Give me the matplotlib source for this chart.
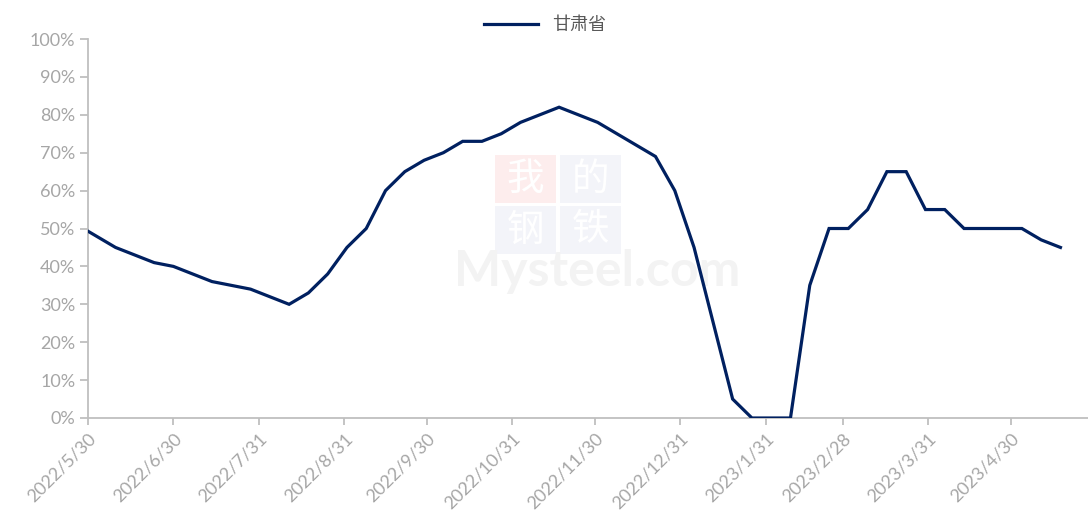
import matplotlib
matplotlib.use('Agg')
import matplotlib.pyplot as plt
from matplotlib.patches import Rectangle
import pandas as pd
import numpy as np

plt.rcParams['font.family'] = ['Lato', 'Noto Sans CJK SC', 'DejaVu Sans']

# weekly data (Thursdays), first point sits before the axis start and gets clipped
dates = pd.date_range('2022-05-26', '2023-05-18', freq='7D')
values = [51, 48, 45, 43, 41, 40, 38, 36, 35, 34, 32, 30, 33, 38, 45, 50,
          60, 65, 68, 70, 73, 73, 75, 78, 80, 82, 80, 78, 75, 72, 69, 60,
          45, 25, 5, 0, 0, 0, 35, 50, 50, 55, 65, 65, 55, 55, 50, 50, 50,
          50, 47, 45]
series_name = '甘肃省'
tick_dates = ['2022-05-30', '2022-06-30', '2022-07-31', '2022-08-31', '2022-09-30',
              '2022-10-31', '2022-11-30', '2022-12-31', '2023-01-31', '2023-02-28',
              '2023-03-31', '2023-04-30']

W, H = 1088, 527
fig = plt.figure(figsize=(W / 100, H / 100), dpi=100)
ax = fig.add_axes([88 / W, (H - 418) / H, 1000 / W, (418 - 39) / H])
ax.set_zorder(5)

# faint watermark, kept behind the axes
fig.text(597 / W, 1 - 272 / H, 'Mysteel.com', fontsize=36, color='#F3F3F3', weight='bold',
         ha='center', va='center', zorder=0)
wm = [(495, 155, '我', '#FDEDED'), (560, 155, '的', '#F3F4F9'),
      (495, 206, '钢', '#F3F4F9'), (560, 206, '铁', '#F3F4F9')]
for (x0, y0, ch, col) in wm:
    fig.patches.append(Rectangle((x0 / W, 1 - (y0 + 48) / H), 61 / W, 48 / H,
                                 transform=fig.transFigure, fc=col, ec='none', zorder=0))
    fig.text((x0 + 30.5) / W, 1 - (y0 + 24) / H, ch, fontsize=27, color='#FFFFFF',
             ha='center', va='center', family=['Noto Sans CJK SC'], zorder=0.5)

ax.patch.set_alpha(0)
ax.plot(dates, np.array(values) / 100, color='#002060', lw=2.3, label=series_name,
        solid_joinstyle='miter', zorder=3)

ax.set_xlim(pd.Timestamp('2022-05-30'), pd.Timestamp('2023-05-28'))
ax.set_ylim(0, 1)
ax.set_yticks(np.arange(0, 1.01, 0.1))
ax.set_yticklabels([f'{int(round(v * 100))}%' for v in np.arange(0, 1.01, 0.1)])
ax.set_xticks([pd.Timestamp(d) for d in tick_dates])
ax.set_xticklabels([f'{pd.Timestamp(d).year}/{pd.Timestamp(d).month}/{pd.Timestamp(d).day}'
                    for d in tick_dates], rotation=45, ha='right', rotation_mode='anchor')

for s in ['top', 'right']:
    ax.spines[s].set_visible(False)
for s in ['left', 'bottom']:
    ax.spines[s].set_color('#BFBFBF')
    ax.spines[s].set_linewidth(1.3)
ax.tick_params(axis='y', length=6, width=1.3, color='#BFBFBF', labelcolor='#A6A6A6',
               labelsize=13, pad=3)
ax.tick_params(axis='x', length=5, width=1.3, color='#BFBFBF', labelcolor='#A6A6A6',
               labelsize=13, pad=4)

fig.legend(loc='center', bbox_to_anchor=(545 / W, 1 - 25 / H), frameon=False,
           handlelength=3, labelcolor='#595959',
           prop={'family': ['Noto Sans CJK SC'], 'size': 13})

fig.savefig('out.png', dpi=100)
